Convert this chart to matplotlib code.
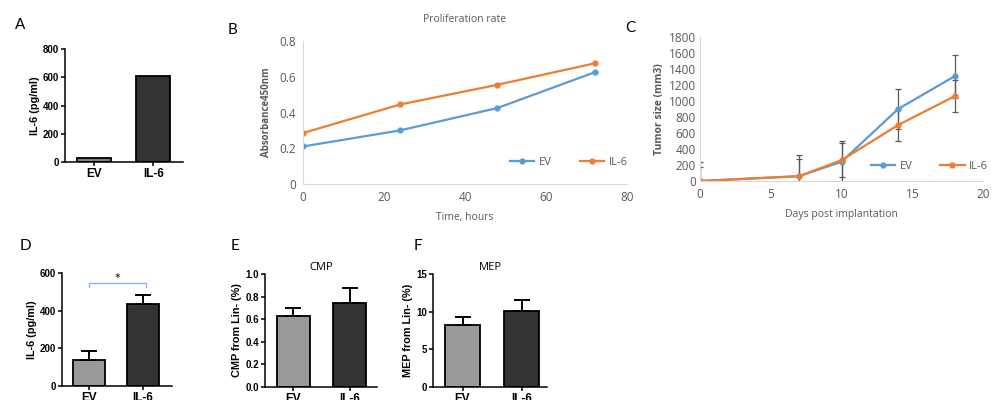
import numpy as np
import matplotlib
matplotlib.use("Agg")
import matplotlib.pyplot as plt

# ---- data ----
groups = ["EV", "IL-6"]

# A: IL-6 secretion
a_vals = [25, 610]

# B: proliferation (absorbance 450nm)
b_time = [0, 24, 48, 72]
b_ev = [0.21, 0.30, 0.425, 0.625]
b_il6 = [0.285, 0.445, 0.555, 0.675]

# C: tumour growth
c_days = [0, 7, 10, 14, 18]
c_ev = [0, 60, 240, 900, 1310]
c_ev_err = [240, 270, 260, 250, 270]
c_il6 = [0, 60, 260, 700, 1060]
c_il6_err = [180, 210, 210, 200, 200]

# D, E, F: bar + SEM
d_vals = [140, 435]
d_err = [45, 50]
e_vals = [0.625, 0.745]
e_err = [0.07, 0.13]
f_vals = [8.2, 10.1]
f_err = [1.1, 1.5]

W, H = 997, 400
fig = plt.figure(figsize=(W / 100, H / 100), dpi=100)

def box(l, t, r, b):
    # pixel box -> figure fraction
    return [l / W, 1 - b / H, (r - l) / W, (b - t) / H]

prism = dict(family="Liberation Sans", weight="bold")
excel = "Open Sans"
grey = "#595959"
c_ev_col = "#5B9BD5"
c_il_col = "#ED7D31"
bar_cols = ["#9a9a9a", "#333333"]


def prism_bars(rect, vals, err, ylim, yticks, ylabel, xlim, width, title=None,
               col0="#9a9a9a", fmt="{:g}"):
    ax = fig.add_axes(rect)
    x = np.arange(len(vals))
    yerr = None if err is None else [np.zeros(len(vals)), err]
    ax.bar(x, vals, width=width, color=[col0, bar_cols[1]], edgecolor="black",
           linewidth=1.3, yerr=yerr, capsize=5.5,
           error_kw=dict(elinewidth=1.4, capthick=1.4, ecolor="black"))
    ax.set_xlim(*xlim)
    ax.set_ylim(*ylim)
    ax.set_yticks(yticks)
    ax.set_yticklabels([fmt.format(t) for t in yticks], fontsize=7, **prism)
    ax.set_xticks(x)
    ax.set_xticklabels(groups, fontsize=8.5, **prism)
    ax.set_ylabel(ylabel, fontsize=7.8, labelpad=2, **prism)
    for s in ["top", "right"]:
        ax.spines[s].set_visible(False)
    for s in ["left", "bottom"]:
        ax.spines[s].set_linewidth(1.1)
    ax.tick_params(axis="both", direction="out", length=3, width=1.1, pad=1.5)
    if title:
        ax.set_title(title, fontsize=8, family=excel, pad=3)
    return ax


# ---- A ----
prism_bars(box(65, 49, 183, 162), a_vals, None, (0, 800), [0, 200, 400, 600, 800],
           "IL-6 (pg/ml)", (-0.49, 1.5), 0.57, col0="#7f7f7f")

# ---- D ----
axd = prism_bars(box(62, 273, 172, 386), d_vals, d_err, (0, 600), [0, 200, 400, 600],
                 "IL-6 (pg/ml)", (-0.5, 1.54), 0.59)
axd.plot([0, 0, 1.05, 1.05], [528, 547, 547, 528], color="#8DB4E2", lw=1.0,
         clip_on=False)
axd.text(0.52, 575, "*", ha="center", va="center", fontsize=8, clip_on=False)

# ---- E ----
prism_bars(box(265, 274, 377, 387), e_vals, e_err, (0, 1.0),
           [0.0, 0.2, 0.4, 0.6, 0.8, 1.0], "CMP from Lin- (%)", (-0.5, 1.48), 0.58,
           title="CMP", fmt="{:.1f}")

# ---- F ----
prism_bars(box(433, 274, 547, 387), f_vals, f_err, (0, 15), [0, 5, 10, 15],
           "MEP from Lin- (%)", (-0.5, 1.43), 0.59, title="MEP")


def excel_axes(rect):
    ax = fig.add_axes(rect)
    for s in ["top", "right"]:
        ax.spines[s].set_visible(False)
    for s in ["left", "bottom"]:
        ax.spines[s].set_color("#D9D9D9")
        ax.spines[s].set_linewidth(0.8)
    ax.tick_params(length=0, labelsize=8.5, labelcolor=grey, pad=5)
    return ax


# ---- B ----
axb = excel_axes(box(303, 41, 627, 184))
axb.plot(b_time, b_ev, "-o", color=c_ev_col, lw=1.6, ms=3.5, label="EV")
axb.plot(b_time, b_il6, "-o", color=c_il_col, lw=1.6, ms=3.5, label="IL-6")
axb.set_xlim(0, 80)
axb.set_ylim(0, 0.8)
axb.set_xticks([0, 20, 40, 60, 80])
axb.set_yticks([0, 0.2, 0.4, 0.6, 0.8])
axb.set_yticklabels(["0", "0.2", "0.4", "0.6", "0.8"])
for lab in axb.get_xticklabels() + axb.get_yticklabels():
    lab.set_family(excel)
axb.set_xlabel("Time, hours", fontsize=7.5, color=grey, family=excel, labelpad=6)
axb.set_ylabel("Absorbance450nm", fontsize=7, color=grey, family=excel,
               weight="bold", labelpad=5)
axb.set_title("Proliferation rate", fontsize=7.5, color=grey, family=excel, pad=14)
leg = axb.legend(loc="center", bbox_to_anchor=(0.82, 0.15), ncol=2, frameon=False,
                 fontsize=8, handlelength=2.2, columnspacing=2.5, handletextpad=0.4)
for t in leg.get_texts():
    t.set_color(grey)
    t.set_family(excel)

# ---- C ----
axc = excel_axes(box(700, 37, 983, 181))
axc.errorbar(c_days, c_ev, yerr=c_ev_err, fmt="none", ecolor="#595959",
             elinewidth=0.9, capsize=2, capthick=0.9)
axc.errorbar(c_days, c_il6, yerr=c_il6_err, fmt="none", ecolor="#595959",
             elinewidth=0.9, capsize=2, capthick=0.9)
axc.plot(c_days, c_ev, "-o", color=c_ev_col, lw=1.6, ms=3.5, label="EV")
axc.plot(c_days, c_il6, "-o", color=c_il_col, lw=1.6, ms=3.5, label="IL-6")
axc.set_xlim(0, 20)
axc.set_ylim(0, 1800)
axc.set_xticks([0, 5, 10, 15, 20])
axc.set_yticks(np.arange(0, 1801, 200))
for lab in axc.get_xticklabels() + axc.get_yticklabels():
    lab.set_family(excel)
axc.tick_params(axis="y", pad=3)
axc.set_xlabel("Days post implantation", fontsize=7.5, color=grey, family=excel,
               labelpad=6)
axc.set_ylabel("Tumor size (mm3)", fontsize=7.5, color=grey, family=excel,
               weight="bold", labelpad=3)
leg = axc.legend(loc="center", bbox_to_anchor=(0.81, 0.1), ncol=2, frameon=False,
                 fontsize=8, handlelength=2.2, columnspacing=2.5, handletextpad=0.4)
for t in leg.get_texts():
    t.set_color(grey)
    t.set_family(excel)

# ---- panel letters ----
for letter, x, y in [("A", 20, 25), ("B", 232, 30), ("C", 630, 28),
                     ("D", 25, 246), ("E", 235, 246), ("F", 418, 246)]:
    fig.text(x / W, 1 - y / H, letter, fontsize=11, family="Lato",
             ha="center", va="center")

fig.savefig("out.png", dpi=100)
